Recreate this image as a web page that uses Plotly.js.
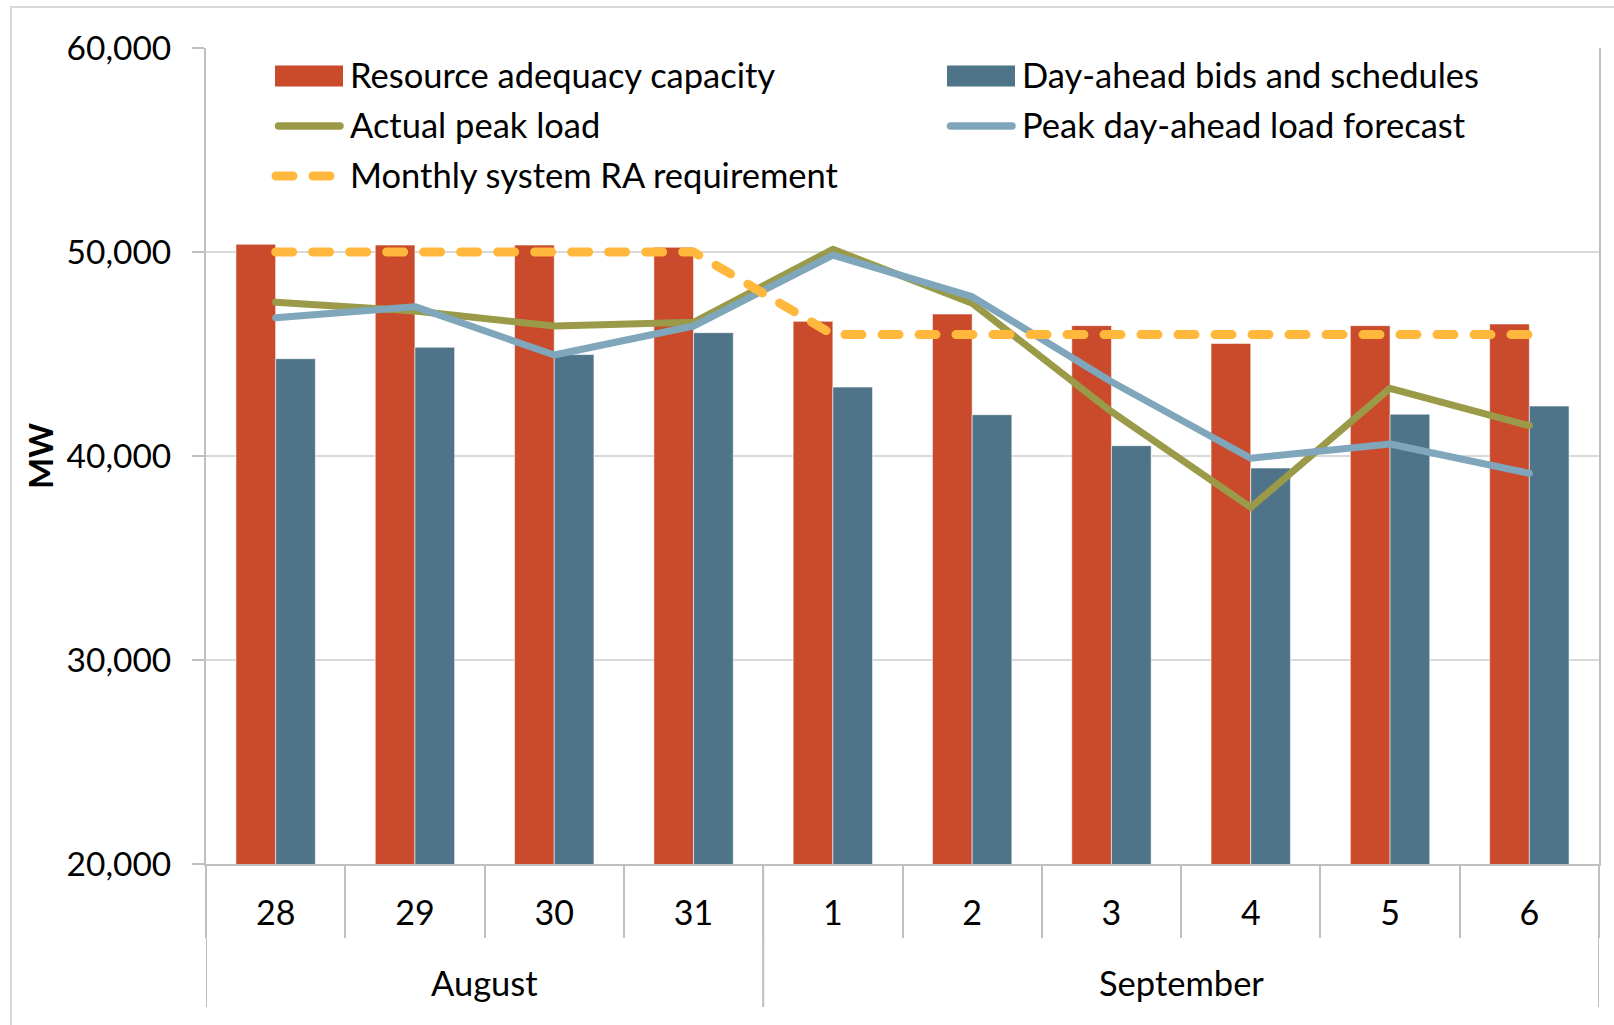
<!DOCTYPE html>
<html><head><meta charset="utf-8">
<script src="https://cdn.plot.ly/plotly-3.0.1.min.js"></script>
<style>
html,body{margin:0;padding:0;overflow:hidden;background:#fff}
#chart{position:absolute;left:0;top:0;width:1614px;height:1025px}
#frame{position:absolute;left:10px;top:6px;width:1700px;height:1100px;border:2px solid #D9D9D9;pointer-events:none}
</style></head><body>
<div id="chart"></div><div id="frame"></div>
<script>
// ---- data ----
const days = ['28','29','30','31','1','2','3','4','5','6'];
const dayMonths = ['August','August','August','August','September','September','September','September','September','September'];
const raCapacity     = [50380, 50340, 50340, 50230, 46600, 46960, 46390, 45520, 46390, 46470];
const dayAheadBids   = [44770, 45330, 44970, 46045, 43380, 42025, 40505, 39410, 42045, 42450];
const actualPeakLoad = [47535, 47110, 46370, 46555, 50130, 47485, 42170, 37485, 43320, 41485];
const peakForecast   = [46780, 47320, 44950, 46370, 49850, 47810, 43640, 39890, 40590, 39150];
const raRequirement  = [50000, 50000, 50000, 50000, 45950, 45950, 45950, 45950, 45950, 45950];
const seriesNames = ['Resource adequacy capacity', 'Day-ahead bids and schedules', 'Actual peak load', 'Peak day-ahead load forecast', 'Monthly system RA requirement'];
const yTicks = [20000, 30000, 40000, 50000, 60000];
const yTitle = 'MW';

// ---- styles ----
const C = {red:'#C94B2B', slate:'#4F7489', olive:'#9A9A48', sky:'#7FA6BA', gold:'#FFB83B', grid:'#D9D9D9', axis:'#BFBFBF'};
const W = 1614, H = 1025, M = {l:206, r:15, t:48, b:161};
const pw = W - M.l - M.r, ph = H - M.t - M.b;
const xp = px => (px - M.l) / pw;
const yp = py => (H - M.b - py) / ph;
const FONT = 'Lato, "Open Sans", sans-serif';

const traces = [
  {type:'bar', name:seriesNames[0], x:days, y:raCapacity, marker:{color:C.red, line:{color:'rgba(255,255,255,0.55)', width:1}}},
  {type:'bar', name:seriesNames[1], x:days, y:dayAheadBids, marker:{color:C.slate, line:{color:'rgba(255,255,255,0.55)', width:1}}},
  {type:'scatter', mode:'lines', name:seriesNames[2], x:days, y:actualPeakLoad, line:{color:C.olive, width:7}},
  {type:'scatter', mode:'lines', name:seriesNames[3], x:days, y:peakForecast, line:{color:C.sky, width:7}},
  {type:'scatter', mode:'lines', name:seriesNames[4], x:days, y:raRequirement, line:{color:C.gold, width:9, dash:'17px,20px'}}
];

// month groups from data
const months = [];
dayMonths.forEach((m, i) => {
  if (!months.length || months[months.length-1].name !== m) months.push({name:m, start:i, end:i});
  else months[months.length-1].end = i;
});

const shapes = [];
const annotations = [];
// month dividers
const bounds = [-0.5].concat(months.map(m => m.end + 0.5));
bounds.forEach(b => shapes.push({type:'line', xref:'x', yref:'paper', x0:b, x1:b, y0:0, y1:yp(1007), line:{color:C.axis, width:2}}));
months.forEach(m => annotations.push({xref:'x', yref:'paper', x:(m.start + m.end)/2, y:yp(983), text:m.name, showarrow:false, xanchor:'center', yanchor:'middle', font:{family:FONT, size:34.5, color:'#000'}}));

// legend (manual, Excel-style swatches)
const legendRows = [
  {col:0, row:0, kind:'bar', color:C.red, text:seriesNames[0]},
  {col:1, row:0, kind:'bar', color:C.slate, text:seriesNames[1]},
  {col:0, row:1, kind:'line', color:C.olive, text:seriesNames[2]},
  {col:1, row:1, kind:'line', color:C.sky, text:seriesNames[3]},
  {col:0, row:2, kind:'dash', color:C.gold, text:seriesNames[4]}
];
const colX = [275, 947], colText = [349, 1021], rowY = [76, 126, 176];
const roundIdx = [];
legendRows.forEach(it => {
  const x0 = colX[it.col], yc = rowY[it.row];
  if (it.kind === 'bar') {
    shapes.push({type:'rect', xref:'paper', yref:'paper', x0:xp(x0), x1:xp(x0+68), y0:yp(yc+10.5), y1:yp(yc-10.5), fillcolor:it.color, line:{width:0}});
  } else if (it.kind === 'line') {
    roundIdx.push(shapes.length);
    shapes.push({type:'line', xref:'paper', yref:'paper', x0:xp(x0+3.5), x1:xp(x0+65), y0:yp(yc), y1:yp(yc), line:{color:it.color, width:7.5}});
  } else {
    roundIdx.push(shapes.length);
    shapes.push({type:'line', xref:'paper', yref:'paper', x0:xp(x0+1), x1:xp(x0+56), y0:yp(yc), y1:yp(yc), line:{color:it.color, width:9, dash:'17px,20px'}});
  }
  annotations.push({xref:'paper', yref:'paper', x:xp(colText[it.col]), y:yp(yc - 2), text:it.text, showarrow:false, xanchor:'left', yanchor:'middle', borderpad:0, font:{family:FONT, size:34.5, color:'#000'}});
});

const layout = {
  width:W, height:H, margin:M, paper_bgcolor:'#fff', plot_bgcolor:'#fff',
  font:{family:FONT, color:'#000'},
  showlegend:false, barmode:'group', bargap:0.43, bargroupgap:0,
  xaxis:{type:'category', categoryorder:'array', categoryarray:days, range:[-0.5, days.length-0.5],
    showgrid:false, zeroline:false, showline:true, linecolor:C.axis, linewidth:2,
    ticks:'outside', tickson:'boundaries', ticklen:72, tickwidth:2, tickcolor:C.axis,
    ticklabelstandoff:18, tickfont:{family:FONT, size:34, color:'#000'}},
  yaxis:{range:[yTicks[0], yTicks[yTicks.length-1]], tickvals:yTicks, tickformat:',d',
    showgrid:true, gridcolor:C.grid, gridwidth:2, zeroline:false,
    showline:true, mirror:true, linecolor:C.axis, linewidth:2,
    ticks:'outside', ticklen:12, tickwidth:2, tickcolor:C.axis, ticklabelstandoff:14,
    tickfont:{family:FONT, size:33.5, color:'#000'},
    title:{text:yTitle, standoff:3, font:{family:FONT, size:33, color:'#000', weight:700}}},
  shapes:shapes, annotations:annotations
};

Plotly.newPlot('chart', traces, layout, {staticPlot:true}).then(gd => {
  gd.querySelectorAll('.scatterlayer .js-line').forEach(p => {p.style.strokeLinecap='round'; p.style.strokeLinejoin='round';});
  const sp = gd.querySelectorAll('.shapelayer path');
  sp.forEach(p => {const i = +p.getAttribute('data-index'); if (roundIdx.indexOf(i) >= 0) p.style.strokeLinecap='round';});
});
</script>
</body></html>
